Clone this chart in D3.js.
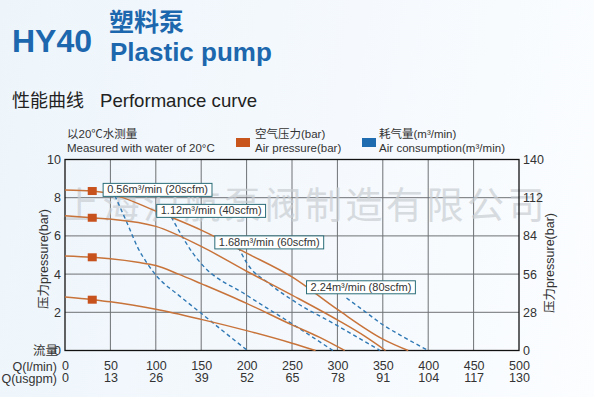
<!DOCTYPE html>
<html lang="zh">
<head>
<meta charset="UTF-8">
<title>HY40 Plastic pump</title>
<script src="https://d3js.org/d3.v7.min.js"></script>
<style>
  html, body { margin: 0; padding: 0; }
  body {
    width: 594px; height: 397px; overflow: hidden;
    background: linear-gradient(100deg, #edf5fb 0%, #f5f9fd 55%, #fbfdff 100%);
    font-family: "Liberation Sans", Arial, "Noto Sans CJK SC", sans-serif;
  }
  svg text { font-family: "Liberation Sans", Arial, "Noto Sans CJK SC", sans-serif; }
</style>
</head>
<body>
<div id="chart"></div>
<script>
// flow axis (l/min) and the usgpm equivalents
const flowTicks = [0, 50, 100, 150, 200, 250, 300, 350, 400, 450, 500];
const usgpmTicks = [0, 13, 26, 39, 52, 65, 78, 91, 104, 117, 130];
const pressureTicks = [0, 2, 4, 6, 8, 10];
const headTicks = [0, 28, 56, 84, 112, 140];

// air pressure curves (Q l/min, bar)
const pressA = [[0, 8.4], [30, 8.35], [50, 8.2], [100, 7.3], [150, 6.3], [200, 5.1], [250, 3.85], [300, 2.15], [350, 0.6], [378, 0]];
const pressB = [[0, 7.05], [30, 6.95], [50, 6.88], [100, 6.5], [150, 5.45], [200, 4.15], [250, 2.9], [300, 1.6], [330, 0.75], [353, 0]];
const pressC = [[0, 4.95], [30, 4.88], [50, 4.8], [80, 4.62], [100, 4.45], [125, 4.0], [150, 3.5], [200, 2.47], [250, 1.34], [280, 0.7], [308, 0]];
const pressD = [[0, 2.8], [30, 2.66], [50, 2.55], [100, 2.16], [150, 1.63], [200, 1.04], [250, 0.38], [276, 0]];

// air consumption curves
const air056 = [[55, 8.1], [70, 6.5], [80, 5.4], [90, 4.6], [100, 3.95], [125, 2.9], [150, 1.95], [175, 0.98], [201, 0]];
const air112 = [[117, 7.0], [130, 5.9], [140, 5.15], [150, 4.55], [200, 2.9], [250, 1.4], [295, 0]];
const air168 = [[191, 5.4], [200, 4.6], [225, 3.5], [250, 2.65], [300, 1.3], [347, 0]];
const air224 = [[310, 2.75], [330, 2.05], [350, 1.35], [375, 0.65], [400, 0]];

const markerQ = 30;
const markerP = [8.35, 6.95, 4.88, 2.66];

// label boxes: top-left corner in data units
const airLabels = ["0.56m³/min (20scfm)", "1.12m³/min (40scfm)", "1.68m³/min (60scfm)", "2.24m³/min (80scfm)"];
const airLabelQ = [42, 101, 165, 266];
const airLabelP = [8.75, 7.65, 6.0, 3.65];

const W = 594, H = 397;
const m = { left: 65, right: 519, top: 159.5, bottom: 350.5 };

const svg = d3.select("#chart").append("svg")
  .attr("width", W).attr("height", H);

const x = d3.scaleLinear().domain([0, 500]).range([m.left, m.right]);
const xg = d3.scaleLinear().domain([0, 130]).range([m.left, m.right]);
const y = d3.scaleLinear().domain([0, 10]).range([m.bottom, m.top]);
const y2 = d3.scaleLinear().domain([0, 140]).range([m.bottom, m.top]);

const blue = "#1c67ad";

// titles
svg.append("text").attr("x", 12).attr("y", 52)
  .attr("font-size", 32).attr("font-weight", "bold").attr("fill", blue).text("HY40");
svg.append("text").attr("x", 109).attr("y", 31)
  .attr("font-size", 25).attr("font-weight", "bold").attr("fill", blue)
  .style("font-family", "'Noto Sans CJK SC', sans-serif").text("塑料泵");
svg.append("text").attr("x", 110).attr("y", 61)
  .attr("font-size", 26).attr("font-weight", "bold").attr("fill", blue).text("Plastic pump");
svg.append("text").attr("x", 12).attr("y", 107)
  .attr("font-size", 18).attr("fill", "#222")
  .style("font-family", "'Noto Sans CJK SC', sans-serif").text("性能曲线");
svg.append("text").attr("x", 100).attr("y", 107)
  .attr("font-size", 18.6).attr("fill", "#222").text("Performance curve");

// legend
const leg = svg.append("g").attr("font-size", 11.5).attr("fill", "#333");
leg.append("text").attr("x", 67).attr("y", 138).text("以20℃水测量");
leg.append("text").attr("x", 67).attr("y", 151.5).text("Measured with water of 20°C");
leg.append("rect").attr("x", 236).attr("y", 138).attr("width", 14).attr("height", 9).attr("fill", "#c8561c");
leg.append("text").attr("x", 255).attr("y", 138).text("空气压力(bar)");
leg.append("text").attr("x", 255).attr("y", 151.5).text("Air pressure(bar)");
leg.append("rect").attr("x", 362).attr("y", 138).attr("width", 14).attr("height", 9).attr("fill", "#1f6db0");
leg.append("text").attr("x", 379).attr("y", 138).text("耗气量(m³/min)");
leg.append("text").attr("x", 379).attr("y", 151.5).attr("textLength", 126).text("Air consumption(m³/min)");

// grid
const grid = svg.append("g").attr("stroke", "#6e7174").attr("stroke-width", 1);
flowTicks.slice(1, -1).forEach(t => {
  grid.append("line").attr("x1", x(t)).attr("x2", x(t)).attr("y1", m.top).attr("y2", m.bottom);
});
pressureTicks.slice(1, -1).forEach(t => {
  grid.append("line").attr("x1", m.left).attr("x2", m.right).attr("y1", y(t)).attr("y2", y(t));
});

// watermark
svg.append("text").attr("x", 62).attr("y", 219)
  .attr("font-size", 37).attr("letter-spacing", 3.5)
  .attr("fill", "#c9ced3").attr("opacity", 0.7)
  .style("font-family", "'Noto Sans CJK SC', sans-serif")
  .text("上海沪航泵阀制造有限公司");

// frame
svg.append("rect").attr("x", m.left).attr("y", m.top)
  .attr("width", m.right - m.left).attr("height", m.bottom - m.top)
  .attr("fill", "none").attr("stroke", "#111").attr("stroke-width", 1.3);

// axes
const tickFont = 12.5;
const yAxis = svg.append("g").attr("transform", `translate(${m.left},0)`)
  .call(d3.axisLeft(y).tickValues(pressureTicks).tickSize(0).tickPadding(4));
const y2Axis = svg.append("g").attr("transform", `translate(${m.right},0)`)
  .call(d3.axisRight(y2).tickValues(headTicks).tickSize(0).tickPadding(4));
const xAxis = svg.append("g").attr("transform", `translate(0,${m.bottom})`)
  .call(d3.axisBottom(x).tickValues(flowTicks).tickSize(0).tickPadding(11));
const xgAxis = svg.append("g").attr("transform", `translate(0,${m.bottom + 12})`)
  .call(d3.axisBottom(xg).tickValues(usgpmTicks).tickSize(0).tickPadding(11));
[yAxis, y2Axis, xAxis, xgAxis].forEach(g => {
  g.select(".domain").remove();
  g.selectAll("text").attr("font-size", tickFont).attr("fill", "#333");
});

svg.append("text").attr("x", 58).attr("y", m.bottom + 4.5).attr("text-anchor", "end")
  .attr("font-size", 12.5).attr("fill", "#333").text("流量");
svg.append("text").attr("x", 57).attr("y", m.bottom + 20.5).attr("text-anchor", "end")
  .attr("font-size", tickFont).attr("fill", "#333").text("Q(l/min)");
svg.append("text").attr("x", 57).attr("y", m.bottom + 32.5).attr("text-anchor", "end")
  .attr("font-size", tickFont).attr("fill", "#333").text("Q(usgpm)");

const midY = (m.top + m.bottom) / 2 + 4;
svg.append("text").attr("transform", `translate(48,${midY}) rotate(-90)`)
  .attr("text-anchor", "middle").attr("font-size", 12.5).attr("fill", "#333")
  .text("压力pressure(bar)");
svg.append("text").attr("transform", `translate(554,${midY + 4}) rotate(-90)`)
  .attr("text-anchor", "middle").attr("font-size", 12.5).attr("fill", "#333")
  .text("压力pressure(bar)");

// curves
const line = d3.line().x(d => x(d[0])).y(d => y(d[1])).curve(d3.curveMonotoneX);

svg.append("g").selectAll("path")
  .data([air056, air112, air168, air224])
  .join("path")
  .attr("d", line)
  .attr("fill", "none").attr("stroke", "#2f78b4").attr("stroke-width", 1.4)
  .attr("stroke-dasharray", "4,3");

svg.append("g").selectAll("path")
  .data([pressA, pressB, pressC, pressD])
  .join("path")
  .attr("d", line)
  .attr("fill", "none").attr("stroke", "#c8733a").attr("stroke-width", 1.5);

svg.append("g").selectAll("rect")
  .data(markerP)
  .join("rect")
  .attr("x", x(markerQ) - 4.5).attr("y", d => y(d) - 4)
  .attr("width", 9).attr("height", 8)
  .attr("fill", "#c8521d");

// consumption labels
const lab = svg.append("g").selectAll("g")
  .data(airLabels)
  .join("g")
  .attr("transform", (d, i) => `translate(${x(airLabelQ[i])},${y(airLabelP[i])})`);
lab.append("text").attr("x", 4).attr("y", 10)
  .attr("font-size", 11).attr("fill", "#333").text(d => d);
lab.each(function () {
  const g = d3.select(this);
  const bb = g.select("text").node().getBBox();
  g.insert("rect", "text").attr("x", 0).attr("y", 0)
    .attr("width", bb.width + 8).attr("height", 13)
    .attr("fill", "#fff").attr("stroke", "#2a6d78").attr("stroke-width", 1);
});
</script>
</body>
</html>
